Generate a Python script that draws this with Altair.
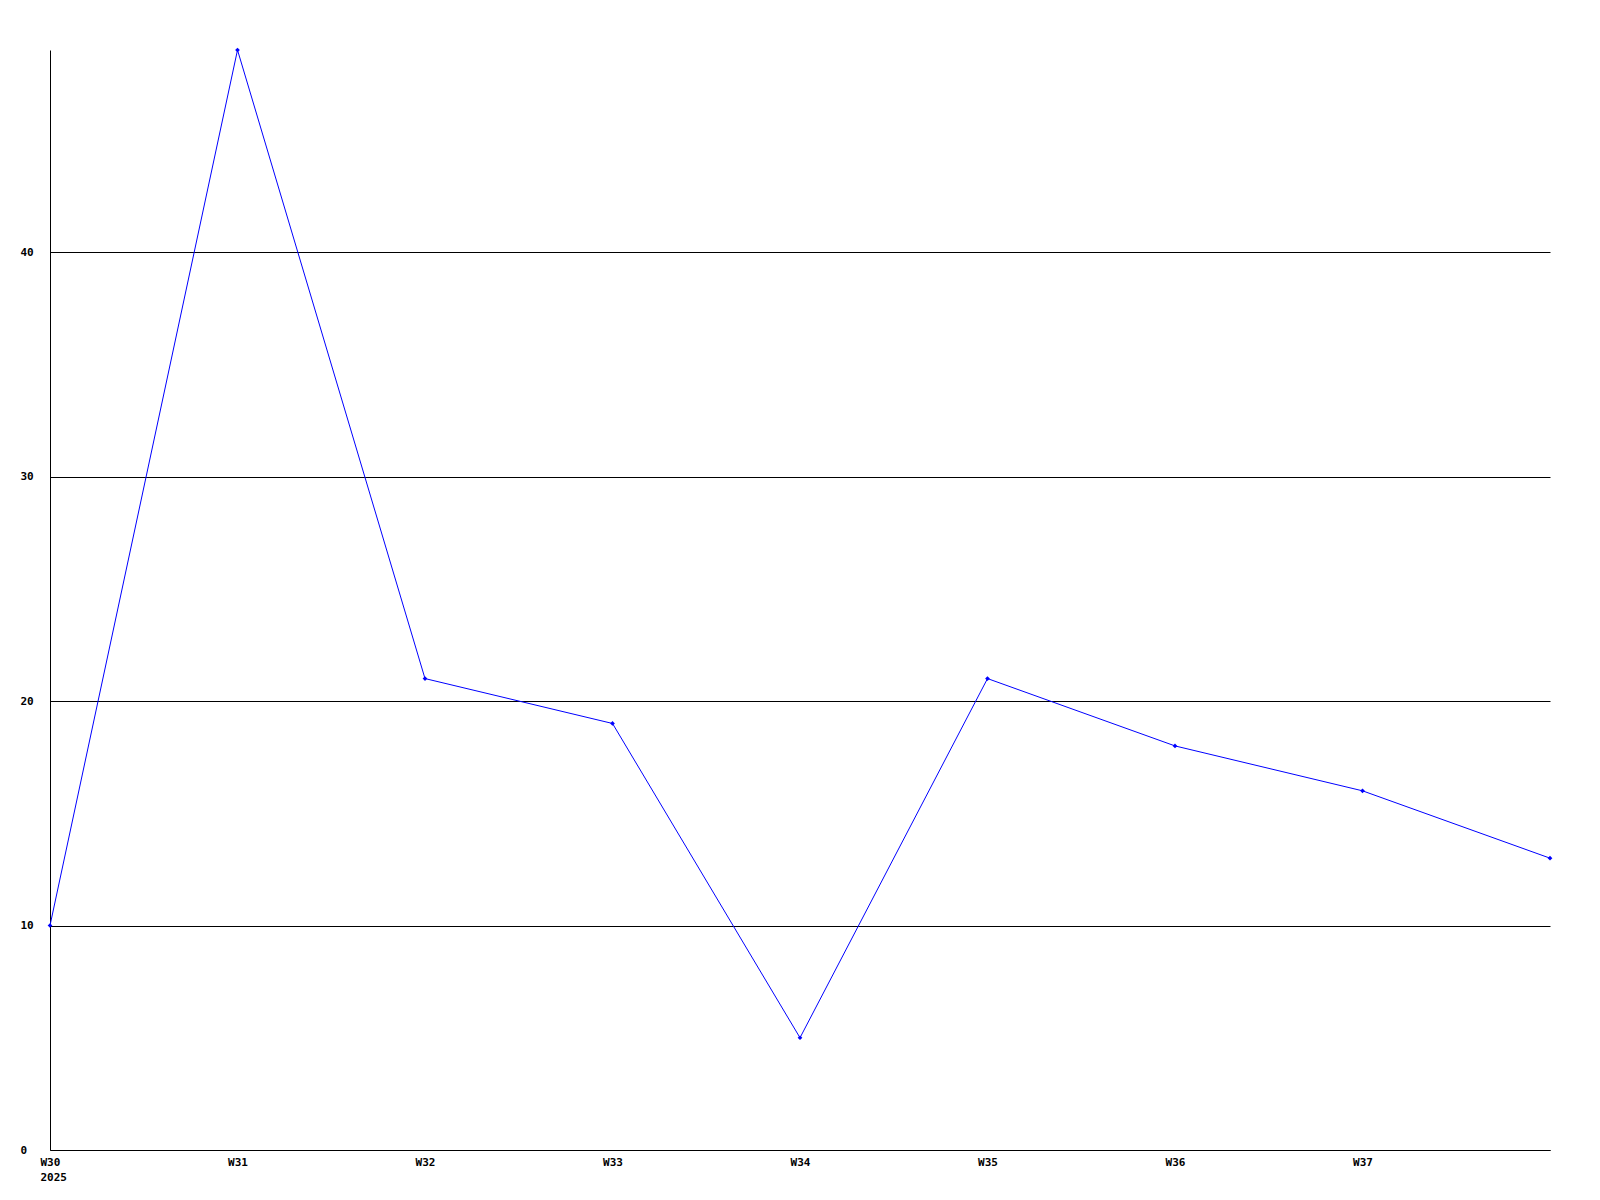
import altair as alt
import pandas as pd
import json

weeks = ["W30", "W31", "W32", "W33", "W34", "W35", "W36", "W37", "W38"]
values = [10, 49, 21, 19, 5, 21, 18, 16, 13]
tick_labels = ["W30", "W31", "W32", "W33", "W34", "W35", "W36", "W37"]
year_label = "2025"
y_ticks = [0, 10, 20, 30, 40]

df = pd.DataFrame({"idx": list(range(len(weeks))), "week": weeks, "value": values})

label_expr = (
    f"datum.value == 0 ? ['{tick_labels[0]}', '{year_label}'] : "
    f"{json.dumps(tick_labels)}[datum.value]"
)

font = "DejaVu Sans Mono"

x = alt.X(
    "idx:Q",
    scale=alt.Scale(domain=[0, len(weeks) - 1], nice=False, zero=False),
    axis=alt.Axis(
        values=list(range(len(tick_labels))),
        labelExpr=label_expr,
        title=None,
        grid=False,
        ticks=False,
        tickSize=0,
        labelPadding=6,
        labelAlign={"expr": "datum.value == 0 ? 'left' : 'center'"},
        labelOffset={"expr": "datum.value == 0 ? -10 : 0"},
        labelBaseline="top",
        labelFont=font,
        labelFontWeight="bold",
        labelFontSize=11,
        labelColor="black",
        labelLineHeight=15,
        domainColor="black",
        domainWidth=1,
        labelOverlap=False,
        labelFlush=False,
        labelBound=False,
    ),
)
y = alt.Y(
    "value:Q",
    scale=alt.Scale(domain=[0, max(values)], nice=False),
    axis=alt.Axis(
        values=y_ticks,
        title=None,
        grid=True,
        gridColor="black",
        gridOpacity=1,
        gridWidth=1,
        ticks=False,
        tickSize=0,
        labelPadding=30,
        labelAlign="left",
        labelBaseline="middle",
        labelFont=font,
        labelFontWeight="bold",
        labelFontSize=11,
        labelColor="black",
        domainColor="black",
        domainWidth=1,
        labelOverlap=False,
        labelFlush=False,
    ),
)

base = alt.Chart(df)
line = base.mark_line(color="#0000ff", strokeWidth=1).encode(x=x, y=y)
pts = base.mark_point(shape="diamond", filled=True, color="#0000ff", size=22, opacity=1).encode(x=x, y=y)

chart = (
    alt.layer(line, pts)
    .properties(
        width=1500,
        height=1100,
        autosize=alt.AutoSizeParams(type="none"),
        padding={"left": 42, "top": 42, "right": 20, "bottom": 40},
        view=alt.ViewBackground(strokeWidth=0, strokeOpacity=0, fill="white"),
    )
    .configure_view(stroke="transparent", strokeWidth=0, strokeOpacity=0)
    .configure(background="white")
)

chart.save("out.html", embed_options={"renderer": "svg", "actions": False})
